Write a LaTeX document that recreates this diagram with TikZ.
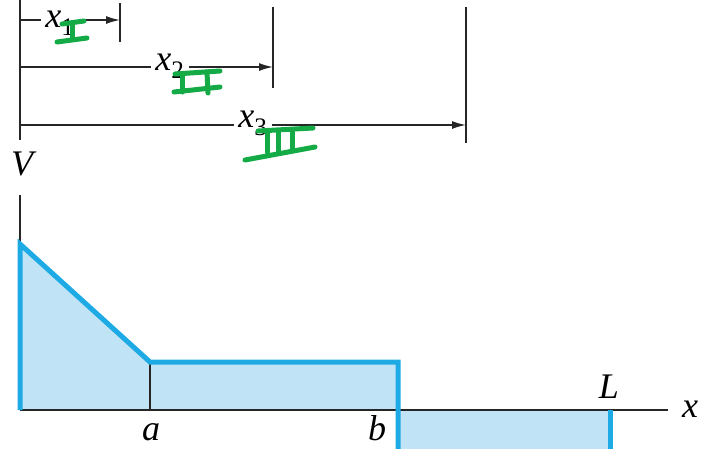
\documentclass[tikz,border=0pt]{standalone}
\usepackage{fontspec}
\setmainfont{Liberation Serif}
\usetikzlibrary{arrows.meta}
\definecolor{vfill}{RGB}{192,228,245}
\definecolor{vline}{RGB}{30,170,228}
\definecolor{hand}{RGB}{20,170,70}
\tikzset{
  thinline/.style={draw=black!85, line width=1.4pt},
  dimarrow/.style={thinline, -{Latex[length=14pt,width=8pt]}},
  lbl/.style={font=\fontsize{36}{36}\selectfont\itshape, inner sep=1pt},
  dimlbl/.style={lbl, fill=white, inner xsep=4pt, inner ysep=0pt},
  vpath/.style={draw=vline, line width=5pt, line join=miter},
  greenmark/.style={draw=hand, line width=5pt, line cap=round}
}
\begin{document}
\begin{tikzpicture}[x=1pt,y=-1pt]
\useasboundingbox (0,0) rectangle (711,448);
\clip (0,0) rectangle (711,448);
% named points
\coordinate (O) at (20,410);
\coordinate (Top) at (20,244);
\coordinate (A) at (150,362);
\coordinate (Aa) at (150,410);
\coordinate (B1) at (398,362);
\coordinate (B0) at (398,410);
\coordinate (B2) at (398,470);
\coordinate (L0) at (610,410);
\coordinate (L2) at (610,470);
\coordinate (Xend) at (668,410);
\coordinate (Vtop) at (20,195);
% fills
\fill[vfill] (O) -- (Top) -- (A) -- (B1) -- (B0) -- cycle;
\fill[vfill] (B0) -- (B2) -- (L2) -- (L0) -- cycle;
% axes
\draw[thinline] (Vtop) -- (O);
\draw[thinline] (O) -- (Xend);
\draw[thinline] (A) -- (Aa);
% V diagram outline
\draw[vpath] (O) -- (Top) -- (A) -- (B1) -- (B2);
\draw[vpath] (L0) -- (L2);
% labels
\node[lbl] (Vl) at (22,164) {V};
\node[lbl] (xl) at (690,409) {x};
\node[lbl] (Ll) at (609,387) {L};
\node[lbl] (al) at (151,432) {a};
\node[lbl] (bl) at (377,428) {b};
% dimension lines
\coordinate (E0) at (20,0);
\coordinate (E1) at (20,140);
\draw[thinline] (E0) -- (E1);
\coordinate (T1a) at (120,3); \coordinate (T1b) at (120,42);
\coordinate (T2a) at (273,7); \coordinate (T2b) at (273,88);
\coordinate (T3a) at (466,7); \coordinate (T3b) at (466,143);
\draw[thinline] (T1a) -- (T1b);
\draw[thinline] (T2a) -- (T2b);
\draw[thinline] (T3a) -- (T3b);
\coordinate (S1) at (20,20); \coordinate (F1) at (120,20);
\coordinate (S2) at (20,67); \coordinate (F2) at (273,67);
\coordinate (S3) at (20,125); \coordinate (F3) at (466,125);
\draw[dimarrow] (S1) -- (F1);
\draw[dimarrow] (S2) -- (F2);
\draw[dimarrow] (S3) -- (F3);
\node[dimlbl] (x1) at (60,23) {x\textsubscript{\upshape 1}};
\node[dimlbl] (x2) at (170,66) {x\textsubscript{\upshape 2}};
\node[dimlbl] (x3) at (253,123) {x\textsubscript{\upshape 3}};
% green handwritten numerals
\draw[greenmark] (62,24) -- (84,21);
\draw[greenmark] (72,23) -- (72,39);
\draw[greenmark] (57,42) -- (87,38);
\draw[greenmark] (175,74) -- (220,71);
\draw[greenmark] (182,74) -- (182,92);
\draw[greenmark] (207,72) -- (208,93);
\draw[greenmark] (174,92) -- (220,87);
\draw[greenmark] (258,131) -- (313,128);
\draw[greenmark] (267,133) -- (267,152);
\draw[greenmark] (278,132) -- (278,151);
\draw[greenmark] (292,131) -- (292,149);
\draw[greenmark] (245,160) -- (315,147);
\end{tikzpicture}
\end{document}
